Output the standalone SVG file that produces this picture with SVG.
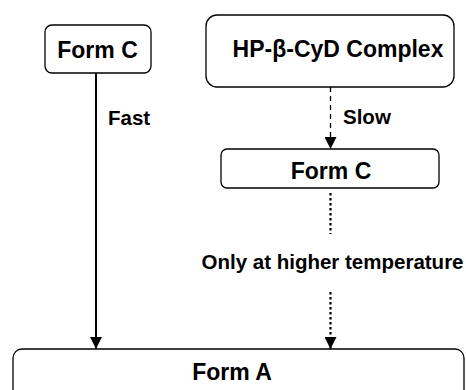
<svg xmlns="http://www.w3.org/2000/svg" width="466" height="390" viewBox="0 0 466 390">
<defs>
<style>
.box{fill:#fff;stroke:#000;stroke-width:1.3}
.t{font-family:"Liberation Sans",Arial,sans-serif;font-weight:bold;fill:#000}
.big{font-size:23px;text-anchor:middle}
.lbl{font-size:20.5px}
.edge{fill:none;stroke:#000}
</style>
<marker id="ah" viewBox="0 0 12 12" refX="12" refY="6" markerWidth="12" markerHeight="12" markerUnits="userSpaceOnUse" orient="auto">
<path d="M0,0 L12,6 L0,12 Z" fill="#000"/>
</marker>
</defs>
<g id="connectors">
<line class="edge" x1="96" y1="73" x2="96" y2="349" stroke-width="2" marker-end="url(#ah)"/>
<line class="edge" x1="330.5" y1="87" x2="330.5" y2="149" stroke-width="1.3" stroke-dasharray="5,4" marker-end="url(#ah)"/>
<line class="edge" x1="330.5" y1="193" x2="330.5" y2="234" stroke-width="2.2" stroke-dasharray="2.5,2.5"/>
<line class="edge" x1="330.5" y1="292" x2="330.5" y2="349" stroke-width="2.2" stroke-dasharray="2.5,2.5" marker-end="url(#ah)"/>
<text class="t lbl" x="108" y="125">Fast</text>
<text class="t lbl" x="343" y="124">Slow</text>
<text class="t lbl" x="201.5" y="269">Only at higher temperature</text>
</g>
<g id="formC1">
<rect class="box" x="45" y="25" width="106" height="48" rx="7"/>
<text class="t big" x="97.5" y="58">Form C</text>
</g>
<g id="complex">
<rect class="box" x="206" y="15" width="248" height="72" rx="11"/>
<text class="t big" x="338" y="57">HP-β-CyD Complex</text>
</g>
<g id="formC2">
<rect class="box" x="221" y="149" width="218" height="39" rx="6"/>
<text class="t big" x="331" y="179">Form C</text>
</g>
<g id="formA">
<rect class="box" x="13" y="349" width="451" height="60" rx="9"/>
<text class="t big" x="232" y="380">Form A</text>
</g>
</svg>
